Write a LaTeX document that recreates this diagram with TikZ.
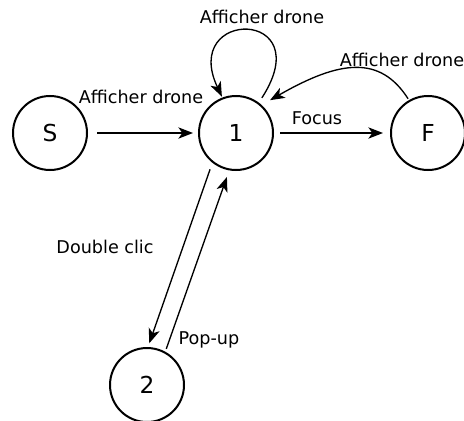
\documentclass[tikz,border=0pt]{standalone}
\usepackage{fontspec}
\setmainfont{DejaVu Sans}
\usetikzlibrary{arrows.meta}
\begin{document}
\begin{tikzpicture}[x=0.75pt,y=-0.75pt,
  state/.style={circle,draw,line width=1.5pt,minimum size=55.5pt,inner sep=0pt,outer sep=0pt,font=\fontsize{17.5pt}{20pt}\selectfont},
  lbl/.style={font=\fontsize{13.2pt}{15pt}\selectfont,inner sep=0pt},
  tr/.style={line width=1pt,-{Stealth[length=11pt,width=8.5pt,inset=3pt]}}]
\useasboundingbox (0,0) rectangle (464,421);
\node[state] (S) at (50,133) {S};
\node[state] (n1) at (236,133) {1};
\node[state] (F) at (428,133) {F};
\node[state] (n2) at (147,385) {2};
\node[lbl] (lS) at (141,97) {Afficher drone};
\node[lbl] (lL) at (262,17) {Afficher drone};
\node[lbl] (lF) at (402,60) {Afficher drone};
\node[lbl] (lFo) at (317,118) {Focus};
\node[lbl] (lD) at (105,247) {Double clic};
\node[lbl] (lP) at (209,340) {Pop-up};
\draw[tr,shorten <=7.5pt,shorten >=4.5pt] (S.east) -- (n1.west);
\draw[tr,shorten <=5.25pt,shorten >=6pt] (n1.east) -- (F.west);
\draw[tr,shorten <=5pt,shorten >=1.5pt] (n1.53) .. controls (320,8) and (180,8) .. (n1.111);
\draw[tr,shorten <=2pt,shorten >=8pt] (F.120) .. controls (380,55) and (340,60) .. (n1.48);
\draw[tr,shorten <=6pt,shorten >=3.75pt] (n1.231) -- (n2.89);
\draw[tr,shorten <=3pt,shorten >=6pt] (n2.61) -- (n1.260);
\end{tikzpicture}
\end{document}
